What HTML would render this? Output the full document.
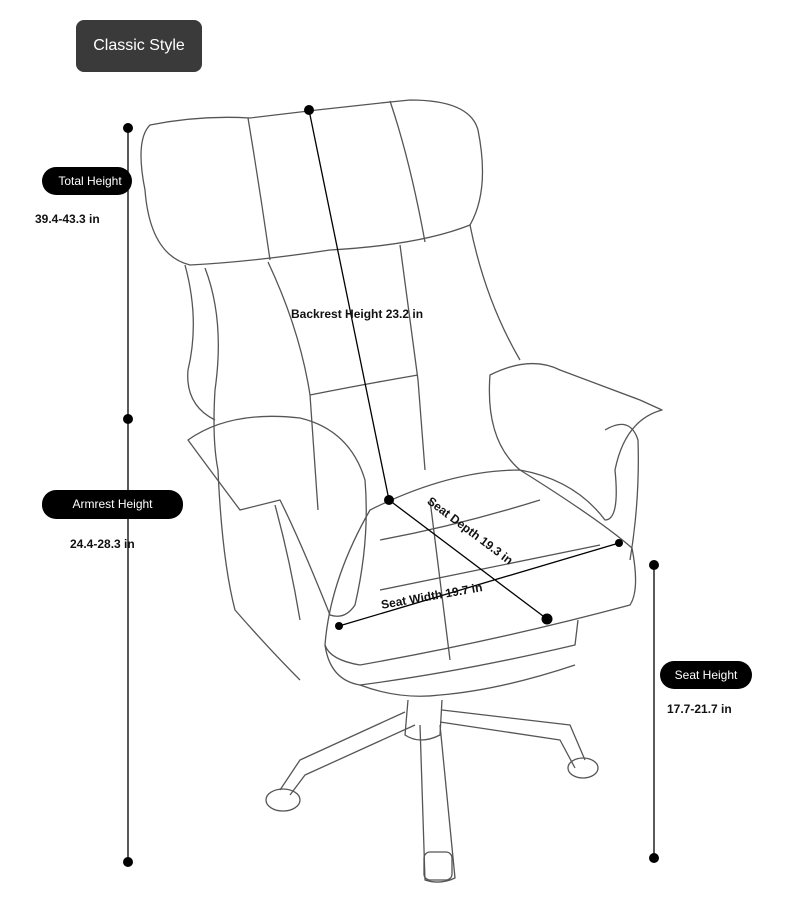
<!DOCTYPE html>
<html><head><meta charset="utf-8"><style>
body{margin:0;background:#fff;width:790px;height:921px;position:relative;overflow:hidden;font-family:"Liberation Sans",sans-serif}
.btn{position:absolute;left:76px;top:20px;width:126px;height:52px;background:#3a3a3a;border-radius:8px;color:#fff;font-size:16px;line-height:52px;text-align:center}
.pill{position:absolute;background:#000;color:#fff;font-size:12px;text-align:center;border-radius:14px}
.val{position:absolute;font-size:12px;font-weight:bold;color:#111}
.lbl{position:absolute;font-size:12px;font-weight:bold;color:#111;white-space:nowrap}
</style></head><body>
<svg width="790" height="921" style="position:absolute;left:0;top:0">
<g fill="none" stroke="#555" stroke-width="1.3" stroke-linejoin="round">
<path d="M150,125 Q200,115 250,118 Q330,108 410,100 Q470,100 478,130 Q490,190 470,225 Q420,245 330,250 Q250,262 190,265 Q150,255 145,190 Q135,140 150,125Z"/>
<path d="M248,118 Q260,190 270,260"/><path d="M390,101 Q410,160 425,242"/>
<path d="M185,265 Q200,320 188,370 Q185,405 215,420"/>
<path d="M470,225 Q485,300 520,360"/>
<path d="M268,262 Q300,330 310,395 L318,510"/><path d="M400,245 Q410,320 418,380 L425,470"/>
<path d="M310,395 Q360,385 418,375"/>
<path d="M205,268 Q225,320 215,390 Q212,440 218,470 Q222,560 235,610 Q270,650 300,680"/>
<path d="M188,440 Q230,410 300,418 Q350,430 365,480 Q370,540 355,605 Q345,620 330,615 Q300,540 280,500 Q260,505 240,510 Q210,470 188,440Z"/>
<path d="M275,505 Q290,560 300,620"/>
<path d="M490,375 Q530,355 560,370 Q600,385 640,400 L662,410 Q625,420 615,470 Q620,520 605,520 Q575,480 520,470 Q485,440 490,375Z"/>
<path d="M605,430 Q630,415 638,440 Q640,500 630,560"/>
<path d="M370,510 Q450,470 520,470 Q600,520 632,548 Q640,590 630,605 Q500,640 360,665 Q330,660 325,645 Q330,580 370,510Z"/>
<path d="M325,645 Q330,680 360,685 Q460,672 575,645 L578,620"/>
<path d="M380,540 Q460,525 540,500"/><path d="M380,590 Q480,570 600,545"/>
<path d="M430,500 Q440,580 450,660"/>
<path d="M360,685 Q400,700 440,695 Q500,690 575,665"/>
<path d="M408,700 L405,735 Q420,745 440,735 L442,700"/>
<path d="M420,725 L425,880 Q440,885 455,878 L440,725"/>
<path d="M405,712 L300,760 L280,790"/><path d="M415,725 L305,775 L290,795"/>
<path d="M442,710 L570,725 L585,760"/><path d="M440,722 L560,740 L575,768"/>
<ellipse cx="283" cy="800" rx="17" ry="11"/><ellipse cx="583" cy="768" rx="15" ry="10"/>
<rect x="424" y="852" width="28" height="28" rx="6"/>
</g>
<g stroke="#000" stroke-width="1.3">
<line x1="128" y1="128" x2="128" y2="862"/>
<line x1="654" y1="565" x2="654" y2="858"/>
<line x1="309" y1="110" x2="389" y2="500"/>
<line x1="389" y1="500" x2="547" y2="619"/>
<line x1="339" y1="626" x2="619" y2="543"/>
</g>
<g fill="#000">
<circle cx="128" cy="128" r="5"/><circle cx="128" cy="419" r="5"/><circle cx="128" cy="862" r="5"/>
<circle cx="654" cy="565" r="5"/><circle cx="654" cy="858" r="5"/>
<circle cx="309" cy="110" r="5"/><circle cx="389" cy="500" r="5"/><circle cx="547" cy="619" r="5.5"/>
<circle cx="339" cy="626" r="4"/><circle cx="619" cy="543" r="4"/>
</g>
</svg>
<div class="btn">Classic Style</div>
<div class="pill" style="left:42px;top:167px;width:90px;height:28px;line-height:28px;padding-left:6px;box-sizing:border-box">Total Height</div>
<div class="val" style="left:35px;top:212px">39.4-43.3 in</div>
<div class="pill" style="left:42px;top:490px;width:141px;height:29px;line-height:29px">Armrest Height</div>
<div class="val" style="left:70px;top:537px">24.4-28.3 in</div>
<div class="pill" style="left:660px;top:661px;width:92px;height:28px;line-height:28px">Seat Height</div>
<div class="val" style="left:667px;top:702px">17.7-21.7 in</div>
<div class="lbl" style="left:291px;top:307px">Backrest Height 23.2 in</div>
<div class="lbl" style="left:433px;top:494px;transform:rotate(37deg);transform-origin:0 0">Seat Depth 19.3 in</div>
<div class="lbl" style="left:380px;top:598px;transform:rotate(-10deg);transform-origin:0 0">Seat Width 19.7 in</div>
</body></html>
